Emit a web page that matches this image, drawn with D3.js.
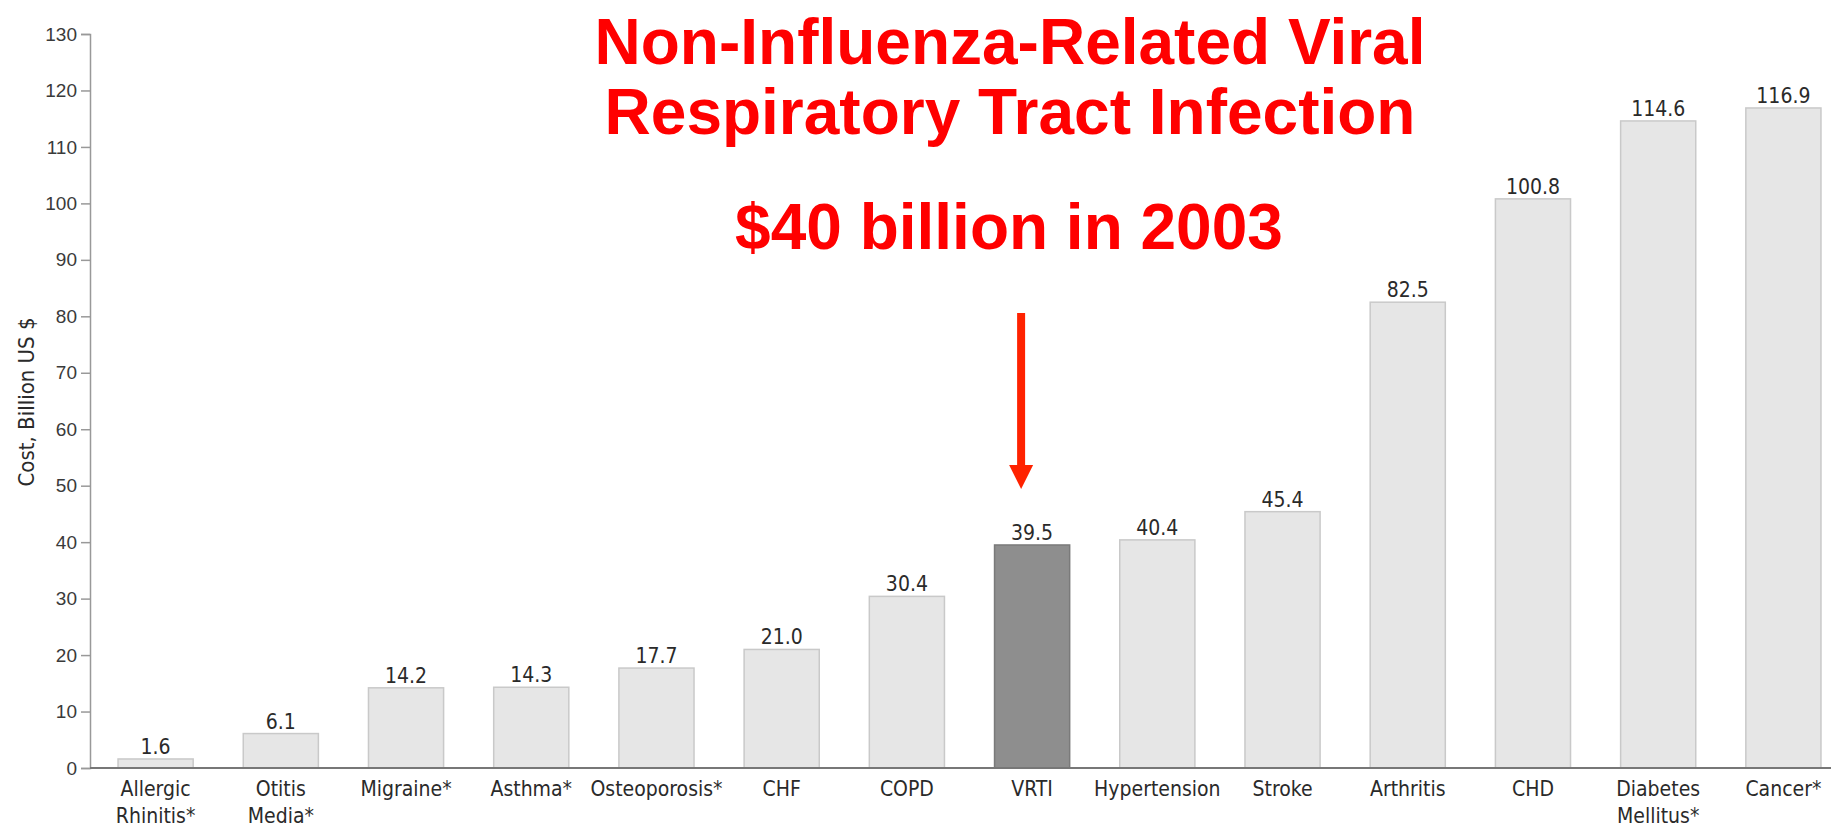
<!DOCTYPE html>
<html>
<head>
<meta charset="utf-8">
<script src="https://cdn.jsdelivr.net/npm/d3@7"></script>
<style>
  body { margin: 0; background: #fff; }
  .lab { font-family: "DejaVu Sans Condensed", "DejaVu Sans", sans-serif; font-stretch: condensed; fill: #2a2a2a; }
  .tick text { font-family: "Liberation Sans", Arial, sans-serif; }
  .ttl { font-family: "Liberation Sans", Arial, sans-serif; font-weight: bold; fill: #ff0000; }
</style>
</head>
<body>
<script>
// cost of illness chart, VRTI highlighted

var categories = ["Allergic\nRhinitis*", "Otitis\nMedia*", "Migraine*", "Asthma*", "Osteoporosis*",
                  "CHF", "COPD", "VRTI", "Hypertension", "Stroke", "Arthritis", "CHD",
                  "Diabetes\nMellitus*", "Cancer*"];
var costs = [1.6, 6.1, 14.2, 14.3, 17.7, 21.0, 30.4, 39.5, 40.4, 45.4, 82.5, 100.8, 114.6, 116.9];
var yTicks = d3.range(0, 131, 10);
var highlight = "VRTI";
var titleLines = ["Non-Influenza-Related Viral", "Respiratory Tract Infection"];
var subtitle = "$40 billion in 2003";

var width = 1831, height = 830;

var svg = d3.select("body").append("svg")
    .attr("width", width)
    .attr("height", height);

var x = d3.scaleBand()
    .domain(categories)
    .range([93, 1846])
    .paddingInner(0.4)
    .paddingOuter(0.2);

var y = d3.scaleLinear()
    .domain([0, 130])
    .range([768, 34]);

// y axis
var yAxis = svg.append("g")
    .attr("transform", "translate(90,0)")
    .call(d3.axisLeft(y).tickValues(yTicks).tickSize(9).tickPadding(4));
yAxis.select(".domain").attr("stroke", "#999").attr("stroke-width", 1.5);
yAxis.selectAll(".tick line").attr("stroke", "#999").attr("stroke-width", 1.5);
yAxis.selectAll(".tick text")
    .style("font-size", "19px")
    .attr("fill", "#3a3a3a");

svg.append("text")
    .attr("class", "lab")
    .attr("transform", "translate(34,402) rotate(-90)")
    .attr("text-anchor", "middle")
    .style("font-size", "22px")
    .text("Cost, Billion US $");

// bars
svg.selectAll("rect.bar")
  .data(costs)
  .enter().append("rect")
    .attr("class", "bar")
    .attr("x", function(d, i) { return x(categories[i]); })
    .attr("y", function(d) { return y(d); })
    .attr("width", x.bandwidth())
    .attr("height", function(d) { return y(0) - y(d); })
    .attr("fill", function(d, i) { return categories[i] == highlight ? "#8e8e8e" : "#e6e6e6"; })
    .attr("stroke", function(d, i) { return categories[i] == highlight ? "#7a7a7a" : "#c9c9c9"; })
    .attr("stroke-width", 1.5);

// baseline
svg.append("line")
    .attr("x1", 90).attr("x2", width)
    .attr("y1", y(0)).attr("y2", y(0))
    .attr("stroke", "#777")
    .attr("stroke-width", 2);

// value labels
svg.selectAll("text.val")
  .data(costs)
  .enter().append("text")
    .attr("class", "lab")
    .attr("x", function(d, i) { return x(categories[i]) + x.bandwidth() / 2; })
    .attr("y", function(d) { return y(d) - 5; })
    .attr("text-anchor", "middle")
    .style("font-size", "21px")
    .text(function(d) { return d.toFixed(1); });

// category labels
var cat = svg.selectAll("text.cat")
  .data(categories)
  .enter().append("text")
    .attr("class", "lab")
    .attr("text-anchor", "middle")
    .style("font-size", "21px")
    .attr("transform", function(d) { return "translate(" + (x(d) + x.bandwidth() / 2) + ",796)"; });
cat.selectAll("tspan")
  .data(function(d) { return d.split("\n"); })
  .enter().append("tspan")
    .attr("x", 0)
    .attr("dy", function(d, i) { return i ? 27 : 0; })
    .text(function(d) { return d; });

// title
svg.selectAll("text.ttl")
  .data(titleLines)
  .enter().append("text")
    .attr("class", "ttl")
    .attr("x", 1010)
    .attr("y", function(d, i) { return 64 + i * 70; })
    .attr("text-anchor", "middle")
    .style("font-size", "64px")
    .text(function(d) { return d; });

svg.append("text")
    .attr("class", "ttl")
    .attr("x", 1009)
    .attr("y", 249)
    .attr("text-anchor", "middle")
    .style("font-size", "64px")
    .text(subtitle);

// arrow pointing at VRTI
var ax = x(highlight) + x.bandwidth() / 2 - 11;
svg.append("line")
    .attr("x1", ax).attr("x2", ax)
    .attr("y1", 313).attr("y2", 468)
    .attr("stroke", "#ff2200")
    .attr("stroke-width", 8);
svg.append("path")
    .attr("d", "M" + (ax - 12) + ",465L" + (ax + 12) + ",465L" + ax + ",489Z")
    .attr("fill", "#ff2200");
</script>
</body>
</html>
